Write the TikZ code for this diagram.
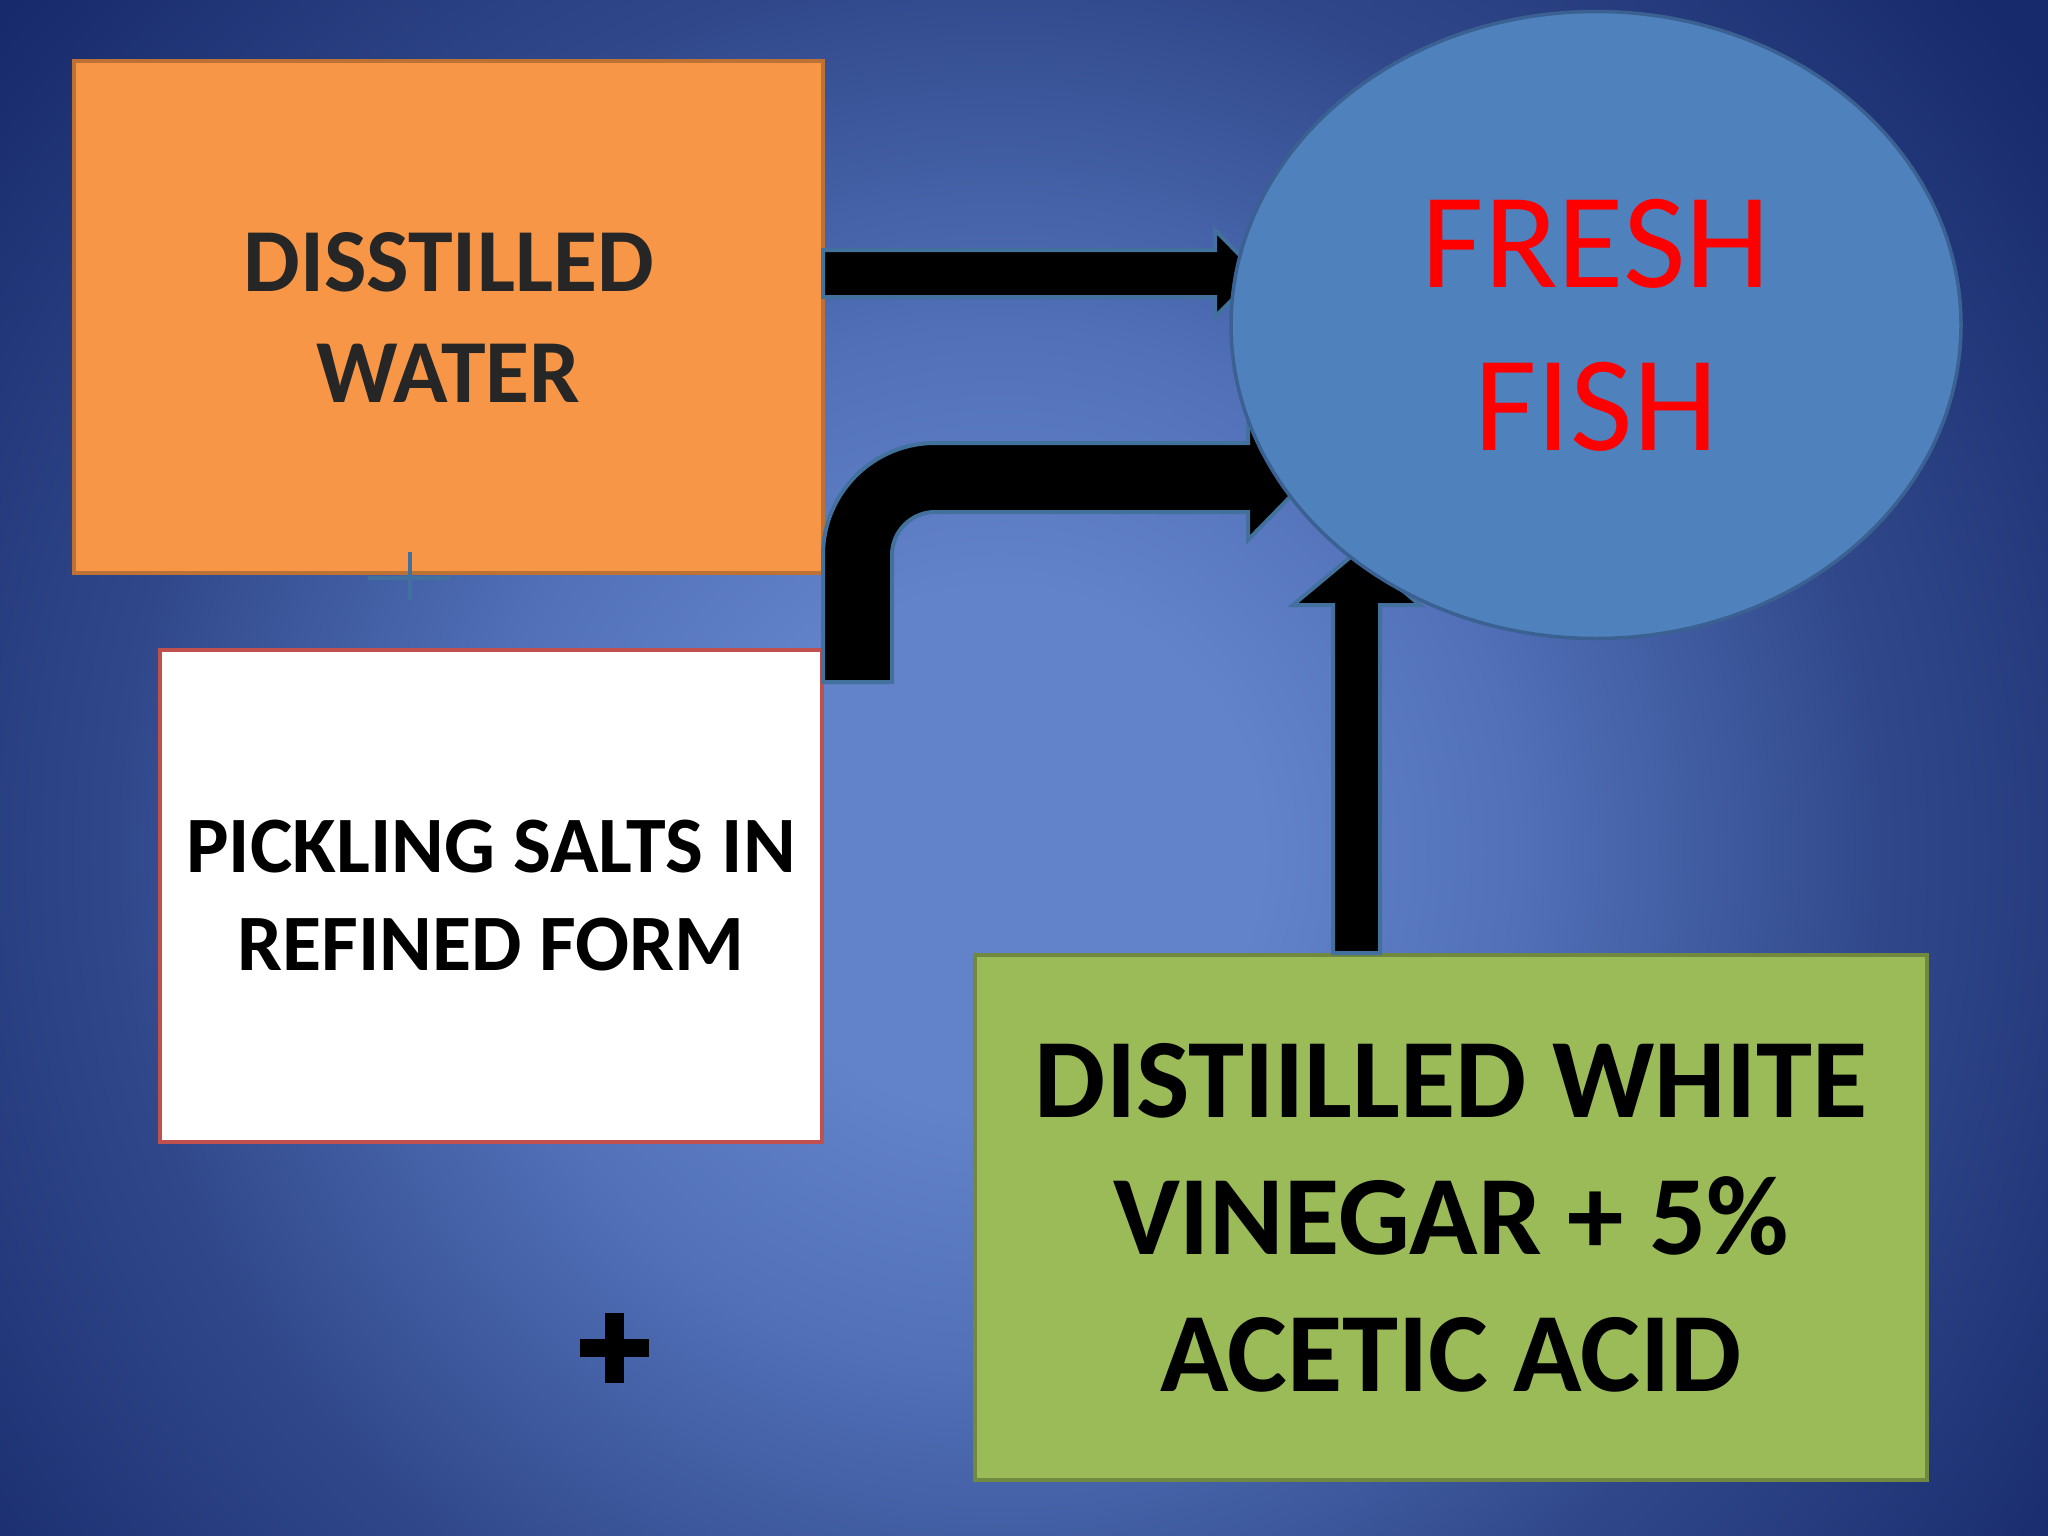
\documentclass[tikz,border=0pt]{standalone}
\usepackage{fontspec}
\setmainfont{Carlito}
\usetikzlibrary{shapes.geometric,calc}
\definecolor{bgA}{HTML}{6282CA}
\definecolor{bgB}{HTML}{5170B8}
\definecolor{bgC}{HTML}{30488A}
\definecolor{bgD}{HTML}{172A6B}
\definecolor{orangeF}{HTML}{F79646}
\definecolor{orangeB}{HTML}{BE7134}
\definecolor{redB}{HTML}{C0504D}
\definecolor{greenF}{HTML}{9BBB59}
\definecolor{greenB}{HTML}{71893F}
\definecolor{fishF}{HTML}{4F81BD}
\definecolor{fishB}{HTML}{3A6191}
\definecolor{arrowB}{HTML}{41719C}
\definecolor{textgray}{HTML}{262626}
\definecolor{fishred}{HTML}{FF0000}
\pgfdeclareradialshading{bgshade}{\pgfpointorigin}{color(0bp)=(bgA); color(5bp)=(bgA); color(10bp)=(bgB); color(17bp)=(bgC); color(25bp)=(bgD); color(50bp)=(bgD)}
\pgfdeclarelayer{bg}
\pgfdeclarelayer{arrowlayer}
\pgfdeclarelayer{top}
\pgfsetlayers{bg,main,arrowlayer,top}
\begin{document}
\begin{tikzpicture}[x=1pt,y=-1pt,
  boxstyle/.style={rectangle, line width=4pt, inner sep=0pt, align=center},
  fatarrow/.style={fill=black, draw=arrowB, line width=4pt, line join=miter}]
\useasboundingbox (0,0) rectangle (2048,1536);
\begin{pgfonlayer}{bg}
  \fill[bgD] (0,0) rectangle (2048,1536);
  \clip (0,0) rectangle (2048,1536);
  \shade[shading=bgshade] (1000,850) circle[radius=1300];
\end{pgfonlayer}

\node[boxstyle, fill=orangeF, draw=orangeB, minimum width=749, minimum height=512,
      text=textgray, font=\bfseries\fontsize{90}{111}\selectfont] (water) at (448.5,317) {DISSTILLED\\WATER};
\node[boxstyle, fill=white, draw=redB, minimum width=662, minimum height=492,
      text=black, font=\bfseries\fontsize{80}{98}\selectfont] (salt) at (491,896) {PICKLING SALTS IN\\REFINED FORM};
\node[boxstyle, fill=greenF, draw=greenB, minimum width=952, minimum height=525,
      text=black, font=\bfseries\fontsize{113}{137}\selectfont] (vinegar) at (1451,1217.5) {DISTIILLED WHITE\\VINEGAR + 5\%\\ACETIC ACID};

\begin{pgfonlayer}{top}
\node[ellipse, fill=fishF, draw=fishB, line width=3.5pt, inner sep=0pt, minimum width=730, minimum height=627,
      text=fishred, align=center, font=\fontsize{136}{163}\selectfont] (fish) at (1596,325) {FRESH\\FISH};
\end{pgfonlayer}

\coordinate (s1) at (823,273.5);
\coordinate (t1) at (1258,273.5);
\coordinate (s2) at (857.5,682);
\coordinate (t2) at (1309,477.5);
\coordinate (s3) at (1356.5,953);
\coordinate (t3) at (1356.5,552);

\begin{pgfonlayer}{arrowlayer}
\draw[fatarrow] ($(s1)+(0,-23.5)$) -- ($(t1)+(-43,-23.5)$) -- ($(t1)+(-43,-43.5)$) -- (t1)
   -- ($(t1)+(-43,43.5)$) -- ($(t1)+(-43,23.5)$) -- ($(s1)+(0,23.5)$) -- cycle;
\draw[fatarrow] ($(s2)+(-34.5,0)$) -- ++(0,-127) arc[start angle=180, end angle=270, radius=112]
   -- ($(t2)+(-61,-34.5)$) -- ($(t2)+(-61,-62.5)$) -- (t2) -- ($(t2)+(-61,62.5)$) -- ($(t2)+(-61,34.5)$)
   -- (935,512) arc[start angle=270, end angle=180, radius=43] -- ($(s2)+(34.5,0)$) -- cycle;
\draw[fatarrow] ($(s3)+(-23.5,0)$) -- ($(t3)+(-23.5,53)$) -- ($(t3)+(-63.5,53)$) -- (t3)
   -- ($(t3)+(63.5,53)$) -- ($(t3)+(23.5,53)$) -- ($(s3)+(23.5,0)$) -- cycle;
\end{pgfonlayer}

% small cross mark at the bottom edge of the orange box
\draw[arrowB, line width=4pt] (410,552) -- (410,600);
\draw[arrowB, line width=4pt] (368,578) -- (450,578);

% plus sign
\fill[black] (580,1339) rectangle (649,1357);
\fill[black] (605,1313) rectangle (624,1383);
\end{tikzpicture}
\end{document}
